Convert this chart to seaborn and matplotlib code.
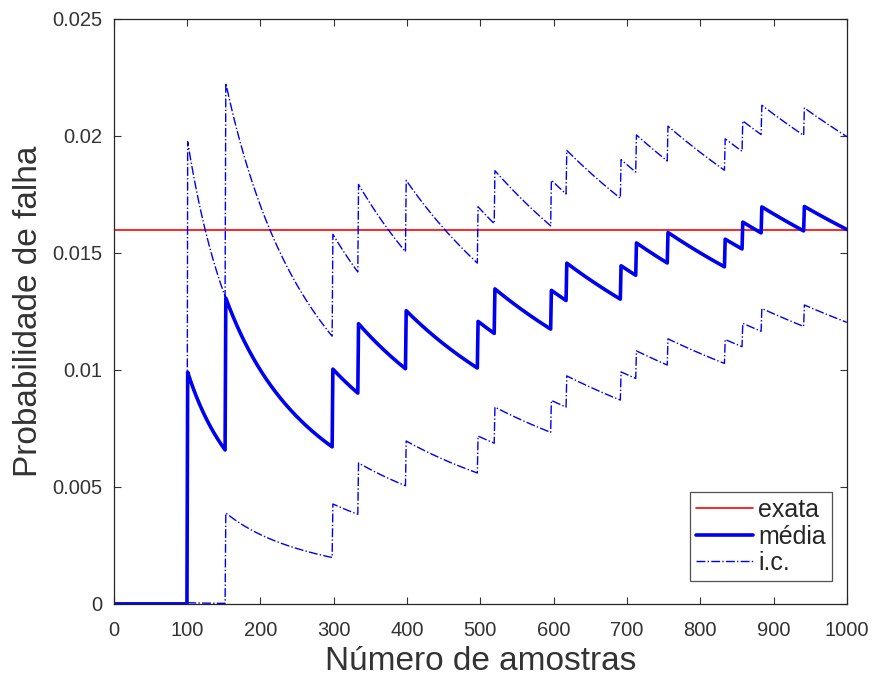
import numpy as np
import pandas as pd
import matplotlib
matplotlib.use("Agg")
import matplotlib.pyplot as plt
import seaborn as sns

# Data
n_samples = 1000
failure_samples = [101, 153, 299, 334, 399, 497, 520, 597, 618, 692, 713, 756, 834, 858, 884, 942]
p_exact = 0.016
legend_labels = ["exata", "média", "i.c."]
xticks = list(range(0, 1001, 100))
yticks = [0, 0.005, 0.01, 0.015, 0.02, 0.025]
ytick_labels = ["0", "0.005", "0.01", "0.015", "0.02", "0.025"]

n = np.arange(1, n_samples + 1)
hits = np.zeros(n_samples)
hits[np.array(failure_samples) - 1] = 1
mean = np.cumsum(hits) / n
std = np.sqrt(mean * (1 - mean) / n)
df = pd.DataFrame({"n": n, "media": mean, "upper": mean + std, "lower": mean - std,
                   "exata": np.full(n_samples, p_exact)})

sns.set_theme(style="white")
plt.rcParams["font.family"] = ["Liberation Sans", "DejaVu Sans"]

fig = plt.figure(figsize=(8.74, 6.77), dpi=100)
ax = fig.add_axes([0.130, 0.108, 0.839, 0.864])

blue = "#0000f0"
sns.lineplot(data=df, x="n", y="exata", ax=ax, color="#ff0000", linewidth=1.2,
             estimator=None, label=legend_labels[0])
sns.lineplot(data=df, x="n", y="media", ax=ax, color=blue, linewidth=2.6,
             estimator=None, label=legend_labels[1])
sns.lineplot(data=df, x="n", y="upper", ax=ax, color=blue, linewidth=1.0,
             linestyle="-.", estimator=None, label=legend_labels[2])
sns.lineplot(data=df, x="n", y="lower", ax=ax, color=blue, linewidth=1.0,
             linestyle="-.", estimator=None, label="_nolegend_")

ax.set_xlim(0, 1000)
ax.set_ylim(0, 0.025)
ax.set_xticks(xticks)
ax.set_xticklabels([str(t) for t in xticks])
ax.set_yticks(yticks)
ax.set_yticklabels(ytick_labels)
ax.tick_params(direction="in", top=True, right=True, length=5, width=0.8,
               labelsize=14.5, colors="#333333", bottom=True, left=True)
ax.tick_params(axis="y", pad=8)
ax.tick_params(axis="x", pad=12)
for s in ax.spines.values():
    s.set_color("#262626")
    s.set_linewidth(0.9)
ax.set_xlabel("Número de amostras", fontsize=24, color="#333333", labelpad=5)
ax.set_ylabel("Probabilidade de falha", fontsize=24, color="#333333", labelpad=6)

leg = ax.legend(loc="lower right", bbox_to_anchor=(0.987, 0.03), fontsize=18,
                frameon=True, fancybox=False, handlelength=2.3, handletextpad=0.2,
                borderpad=0.25, labelspacing=0.1, borderaxespad=0.2)
leg.get_frame().set_edgecolor("#262626")
leg.get_frame().set_linewidth(0.9)
for t in leg.get_texts():
    t.set_color("#262626")

fig.savefig("out.png", dpi=100, facecolor="white")
